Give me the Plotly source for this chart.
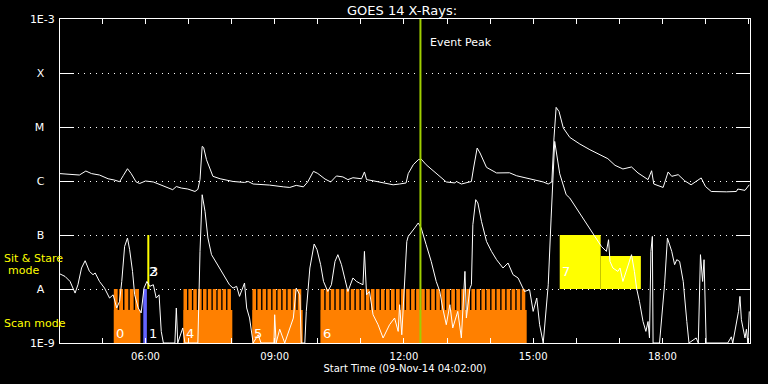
import math
from datetime import datetime
import plotly.graph_objects as go

DATE = "2014-11-09"

# ---- GOES long channel (1-8 A), in units of 1e-6 W/m^2 ----
long_times = [
    "04:01", "04:17", "04:28", "04:37", "04:45", "04:56", "05:08", "05:17", "05:24", "05:29",
    "05:35", "05:40", "05:47", "05:52", "06:00", "06:11", "06:20", "06:31", "06:38", "06:43",
    "06:50", "06:59", "07:09", "07:13", "07:16", "07:19", "07:21", "07:25", "07:30", "07:34",
    "07:44", "08:02", "08:18", "08:23", "08:30", "08:53", "09:12", "09:21", "09:30", "09:40",
    "09:46", "09:54", "10:00", "10:10", "10:18", "10:26", "10:35", "10:42", "10:49", "11:01",
    "11:05", "11:08", "11:17", "11:31", "11:45", "11:54", "12:03", "12:06", "12:13", "12:20",
    "12:24", "12:31", "12:41", "12:50", "12:59", "13:11", "13:13", "13:20", "13:34", "13:37",
    "13:42", "13:46", "13:55", "14:09", "14:27", "14:37", "14:55", "15:14", "15:21", "15:26",
    "15:29", "15:32", "15:36", "15:42", "15:51", "16:05", "16:19", "16:33", "16:44", "16:54",
    "17:05", "17:17", "17:26", "17:40", "17:45", "17:48", "18:01", "18:08", "18:13", "18:22",
    "18:31", "18:40", "18:52", "18:54", "19:00", "19:08", "19:29", "19:43", "19:45", "19:55",
    "20:01",
]
long_flux_1e6 = [
    1.37, 1.31, 1.29, 1.53, 1.37, 1.29, 1.10, 1.04, 0.97, 1.25,
    1.69, 1.38, 0.96, 0.90, 1.00, 0.96, 0.865, 0.76, 0.69, 0.79,
    0.74, 0.71, 0.64, 0.70, 1.06, 4.37, 4.19, 2.48, 1.74, 1.22,
    1.10, 0.98, 0.94, 0.98, 0.88, 0.84, 0.78, 0.76, 0.83, 0.78,
    0.96, 1.51, 1.38, 1.09, 0.96, 1.24, 1.19, 1.06, 1.15, 1.10,
    1.47, 1.06, 1.01, 0.92, 0.85, 0.88, 0.92, 1.37, 2.00, 2.48,
    2.55, 2.00, 1.55, 1.22, 0.96, 0.92, 0.98, 0.88, 0.98, 1.74,
    4.08, 3.30, 1.79, 1.41, 1.42, 1.25, 1.10, 0.96, 0.88, 0.96,
    6.26, 23.1, 19.4, 9.58, 6.42, 4.84, 3.80, 3.07, 2.59, 1.95,
    1.67, 1.82, 1.41, 1.06, 1.55, 0.88, 0.76, 1.47, 1.22, 1.31,
    1.01, 0.85, 1.06, 1.14, 0.79, 0.64, 0.63, 0.64, 0.71, 0.67,
    0.85,
]

# ---- GOES short channel (0.5-4 A), in units of 1e-8 W/m^2 ----
short_times = [
    "04:01", "04:08", "04:15", "04:22", "04:26", "04:31", "04:36", "04:42", "04:47", "04:50",
    "04:56", "05:03", "05:10", "05:15", "05:20", "05:24", "05:27", "05:31", "05:35", "05:38",
    "05:42", "05:45", "05:50", "05:54", "05:58", "06:02", "06:06", "06:11", "06:15", "06:19",
    "06:22", "06:25", "06:34", "06:41", "06:43", "06:45", "06:52", "06:55", "07:13", "07:16",
    "07:19", "07:23", "07:27", "07:32", "07:39", "07:46", "07:53", "07:57", "08:02", "08:07",
    "08:11", "08:18", "08:21", "08:25", "08:30", "08:37", "08:41", "08:59", "09:00", "09:02",
    "09:07", "09:14", "09:26", "09:30", "09:35", "09:37", "09:42", "09:44", "09:49", "09:55",
    "09:59", "10:04", "10:08", "10:14", "10:19", "10:24", "10:28", "10:33", "10:38", "10:42",
    "10:49", "10:54", "10:58", "11:03", "11:05", "11:08", "11:12", "11:17", "11:24", "11:31",
    "11:40", "11:47", "11:52", "11:54", "11:57", "12:01", "12:04", "12:06", "12:10", "12:15",
    "12:20", "12:24", "12:31", "12:38", "12:45", "12:50", "12:54", "12:59", "13:04", "13:08",
    "13:15", "13:20", "13:25", "13:27", "13:32", "13:34", "13:36", "13:40", "13:43", "13:48",
    "13:55", "14:02", "14:09", "14:18", "14:25", "14:32", "14:39", "14:44", "14:48", "14:55",
    "15:00", "15:05", "15:09", "15:14", "15:21", "15:25", "15:30", "15:37", "15:46", "15:51",
    "16:00", "16:10", "16:19", "16:28", "16:35", "16:42", "16:45", "16:47", "16:51", "16:58",
    "17:01", "17:05", "17:12", "17:17", "17:21", "17:24", "17:28", "17:33", "17:37", "17:40",
    "17:42", "17:44", "17:46", "17:47", "17:56", "18:03", "18:07", "18:13", "18:17", "18:20",
    "18:24", "18:29", "18:34", "18:37", "18:47", "18:50", "18:53", "18:56", "18:58", "19:01",
    "19:31", "19:36", "19:38", "19:46", "19:48", "19:50", "19:55", "19:57", "19:59", "20:01",
]
short_flux_1e8 = [
    1.9, 1.71, 1.38, 0.84, 1.20, 2.45, 3.34, 2.12, 1.84, 1.98,
    1.38, 1.04, 0.68, 0.78, 0.445, 0.59, 1.38, 6.15, 8.8, 5.34,
    2.12, 0.78, 0.445, 0.36, 1.04, 1.38, 1.12, 1.20, 0.68, 0.78,
    0.164, 0.1, 0.1, 0.1, 0.445, 0.1, 0.19, 0.1, 0.1, 4.97,
    55.7, 27.4, 8.8, 4.32, 3.03, 2.12, 1.49, 1.20, 1.04, 1.12,
    0.73, 1.29, 0.445, 0.29, 0.1, 0.142, 0.1, 0.1, 0.334, 0.1,
    0.18, 0.1, 0.29, 1.04, 0.78, 0.1, 0.1, 0.385, 2.45, 6.81,
    5.34, 2.82, 1.38, 0.90, 1.20, 3.24, 4.32, 2.82, 1.49, 0.90,
    1.60, 1.38, 1.29, 1.20, 4.97, 0.78, 0.90, 0.334, 0.218, 0.124,
    0.218, 0.29, 0.164, 0.512, 0.142, 1.20, 7.61, 9.42, 10.9, 13.5,
    16.7, 13.5, 6.61, 3.24, 1.38, 0.90, 0.445, 0.218, 0.512, 0.19,
    0.385, 0.124, 2.12, 0.29, 1.04, 1.20, 15.5, 45.1, 39.2, 17.9,
    7.61, 4.97, 3.49, 2.45, 3.03, 1.84, 1.60, 1.20, 0.90, 0.97,
    0.385, 0.68, 0.218, 0.1, 1.20, 20.6, 541.0, 136.0, 55.7, 48.4,
    31.6, 20.6, 13.5, 8.8, 6.15, 4.97, 8.18, 3.24, 2.45, 2.12,
    2.45, 1.38, 2.82, 4.32, 2.12, 1.04, 0.59, 0.25, 0.164, 0.25,
    0.124, 4.97, 9.42, 0.1, 0.1, 1.20, 8.8, 4.97, 2.82, 3.49,
    3.24, 1.38, 0.25, 0.1, 0.124, 0.1, 4.32, 1.38, 3.49, 0.1,
    0.1, 0.13, 0.1, 0.385, 0.73, 0.27, 0.124, 0.18, 0.1, 0.385,
]

# ---- observation blocks ----
scan_labels = ["0", "4", "5", "6"]
scan_start = ["05:16", "06:53", "08:29", "10:04"]
scan_end = ["05:53", "08:01", "09:39", "14:51"]
scan_steps = [5, 10, 10, 41]
scan_level = 1e-8
scan_base_level = 4.1e-9

blue_label = "1"
blue_start, blue_end = "05:57", "06:02"
blue_level = 1e-8

stare_line_labels = ["2", "3"]
stare_line_time = "06:04"
stare_line_levels = [1e-8, 1e-7]

ss_labels = ["7", ""]
ss_start = ["15:37", "16:34"]
ss_end = ["16:34", "17:30"]
ss_level = [1e-7, 4.1e-8]
ss_base = 1e-8

event_peak_time = "12:23"

y_min, y_max = 1e-9, 1e-3
ytick_vals = [1e-9, 1e-8, 1e-7, 1e-6, 1e-5, 1e-4, 1e-3]
ytick_text = ["1E-9", "A", "B", "C", "M", "X", "1E-3"]
x_hours = list(range(5, 21))
x_label_hours = [6, 9, 12, 15, 18]

ORANGE = "#ff8000"
YELLOW = "#ffff00"
BLUE = "#6464ff"
GREEN = "#9fcf00"
FONT = "DejaVu Sans"


def dt(hm):
    return datetime.strptime(f"{DATE} {hm}", "%Y-%m-%d %H:%M")


fig = go.Figure()

# scan-mode rasters (orange)
for lab, s, e, n in zip(scan_labels, scan_start, scan_end, scan_steps):
    t0, t1 = dt(s), dt(e)
    dur = t1 - t0
    fig.add_bar(x=[t0 + dur / 2], y=[scan_base_level - y_min], base=[y_min],
                width=[dur.total_seconds() * 1000], marker_color=ORANGE,
                marker_line_width=0, hoverinfo="skip")
    step = dur / n
    xs = [t0 + step * (i + 0.36) for i in range(n)]
    fig.add_bar(x=xs, y=[scan_level - y_min] * n, base=[y_min] * n,
                width=[step.total_seconds() * 1000 * 0.72] * n, marker_color=ORANGE,
                marker_line_width=0, hoverinfo="skip")

# blue raster
b0, b1 = dt(blue_start), dt(blue_end)
fig.add_bar(x=[b0 + (b1 - b0) / 2], y=[blue_level - y_min], base=[y_min],
            width=[(b1 - b0).total_seconds() * 1000], marker_color=BLUE,
            marker_line_width=0, hoverinfo="skip")

# sit & stare blocks (yellow)
for s, e, top in zip(ss_start, ss_end, ss_level):
    t0, t1 = dt(s), dt(e)
    fig.add_bar(x=[t0 + (t1 - t0) / 2], y=[top - ss_base], base=[ss_base],
                width=[(t1 - t0).total_seconds() * 1000], marker_color=YELLOW,
                marker_line_width=0, hoverinfo="skip")

# sit & stare short line
fig.add_scatter(x=[dt(stare_line_time)] * 2, y=stare_line_levels, mode="lines",
                line=dict(color=YELLOW, width=2), hoverinfo="skip")

# GOES curves
fig.add_scatter(x=[dt(t) for t in long_times], y=[v * 1e-6 for v in long_flux_1e6],
                mode="lines", line=dict(color="white", width=1), hoverinfo="skip")
fig.add_scatter(x=[dt(t) for t in short_times], y=[v * 1e-8 for v in short_flux_1e8],
                mode="lines", line=dict(color="white", width=1), hoverinfo="skip")

# event peak line
fig.add_scatter(x=[dt(event_peak_time)] * 2, y=[y_min, y_max], mode="lines",
                line=dict(color=GREEN, width=2), hoverinfo="skip")

annotations = []
lab_y = math.log10(1.5e-9)
for lab, s in zip(scan_labels, scan_start):
    annotations.append(dict(x=dt(s), y=lab_y, text=lab, showarrow=False, xanchor="left",
                            yanchor="middle", font=dict(color="white", size=13, family=FONT)))
annotations.append(dict(x=dt(blue_end), y=lab_y, text=blue_label, showarrow=False,
                        xanchor="left", yanchor="middle",
                        font=dict(color="white", size=13, family=FONT)))
for k, lab in enumerate(stare_line_labels):
    annotations.append(dict(x=dt(stare_line_time), y=math.log10(2.1e-8), text=lab,
                            showarrow=False, xanchor="left", yanchor="middle", xshift=-1 + k,
                            font=dict(color="white", size=13, family=FONT)))
for lab, s in zip(ss_labels, ss_start):
    if lab:
        annotations.append(dict(x=dt(s), y=math.log10(2.1e-8), text=lab, showarrow=False,
                                xanchor="left", yanchor="middle",
                                font=dict(color="white", size=13, family=FONT)))
annotations.append(dict(x=dt(event_peak_time), y=math.log10(3.7e-4), text="Event Peak",
                        showarrow=False, xanchor="left", yanchor="middle", xshift=8,
                        font=dict(color="white", size=11, family=FONT)))
# mode labels on the left margin
annotations += [
    dict(xref="paper", yref="paper", x=-0.0841, y=0.260, text="Sit & Stare", showarrow=False,
         xanchor="left", yanchor="middle", font=dict(color=YELLOW, size=11, family=FONT)),
    dict(xref="paper", yref="paper", x=-0.0522, y=0.2247, text="mode", showarrow=False,
         xanchor="center", yanchor="middle", font=dict(color=YELLOW, size=11, family=FONT)),
    dict(xref="paper", yref="paper", x=-0.0841, y=0.0596, text="Scan mode", showarrow=False,
         xanchor="left", yanchor="middle", font=dict(color=YELLOW, size=11, family=FONT)),
]

NB = "\u00a0"
yt = [t if t.startswith("1E") else t + NB * 3 for t in ytick_text]

fig.update_layout(
    width=768, height=384,
    margin=dict(l=60, r=18, t=19, b=41),
    paper_bgcolor="black", plot_bgcolor="black",
    showlegend=False, barmode="overlay",
    font=dict(family=FONT, color="white", size=10),
    title=dict(text="GOES 14 X-Rays:", x=0.4957, xref="paper", y=1 - 10 / 384,
               yref="container", xanchor="center", yanchor="middle",
               font=dict(size=13, color="white", family=FONT)),
    annotations=annotations,
)
fig.update_xaxes(
    type="date", range=[f"{DATE} 04:01", f"{DATE} 20:02"],
    tickvals=[dt(f"{h:02d}:00") for h in x_hours],
    ticktext=[f"{h:02d}:00" if h in x_label_hours else "" for h in x_hours],
    ticks="inside", ticklen=5, tickcolor="white", tickwidth=1,
    showline=True, linecolor="white", linewidth=1, mirror="ticks",
    showgrid=False, zeroline=False, ticklabelstandoff=4,
    tickfont=dict(size=10, color="white", family=FONT),
    title=dict(text="Start Time (09-Nov-14 04:02:00)", standoff=3,
               font=dict(size=10, color="white", family=FONT)),
)
fig.update_yaxes(
    type="log", range=[-9, -3],
    tickvals=ytick_vals, ticktext=yt,
    ticks="inside", ticklen=14, tickcolor="white", tickwidth=1,
    showline=True, linecolor="white", linewidth=1, mirror="ticks",
    showgrid=True, gridcolor="white", gridwidth=1, griddash="1px,5px",
    zeroline=False, ticklabelstandoff=2,
    tickfont=dict(size=11, color="white", family=FONT),
)

fig.write_html(
    "out.html",
    config={"displayModeBar": False},
    post_script="document.body.style.margin='0';document.body.style.background='black';",
)
